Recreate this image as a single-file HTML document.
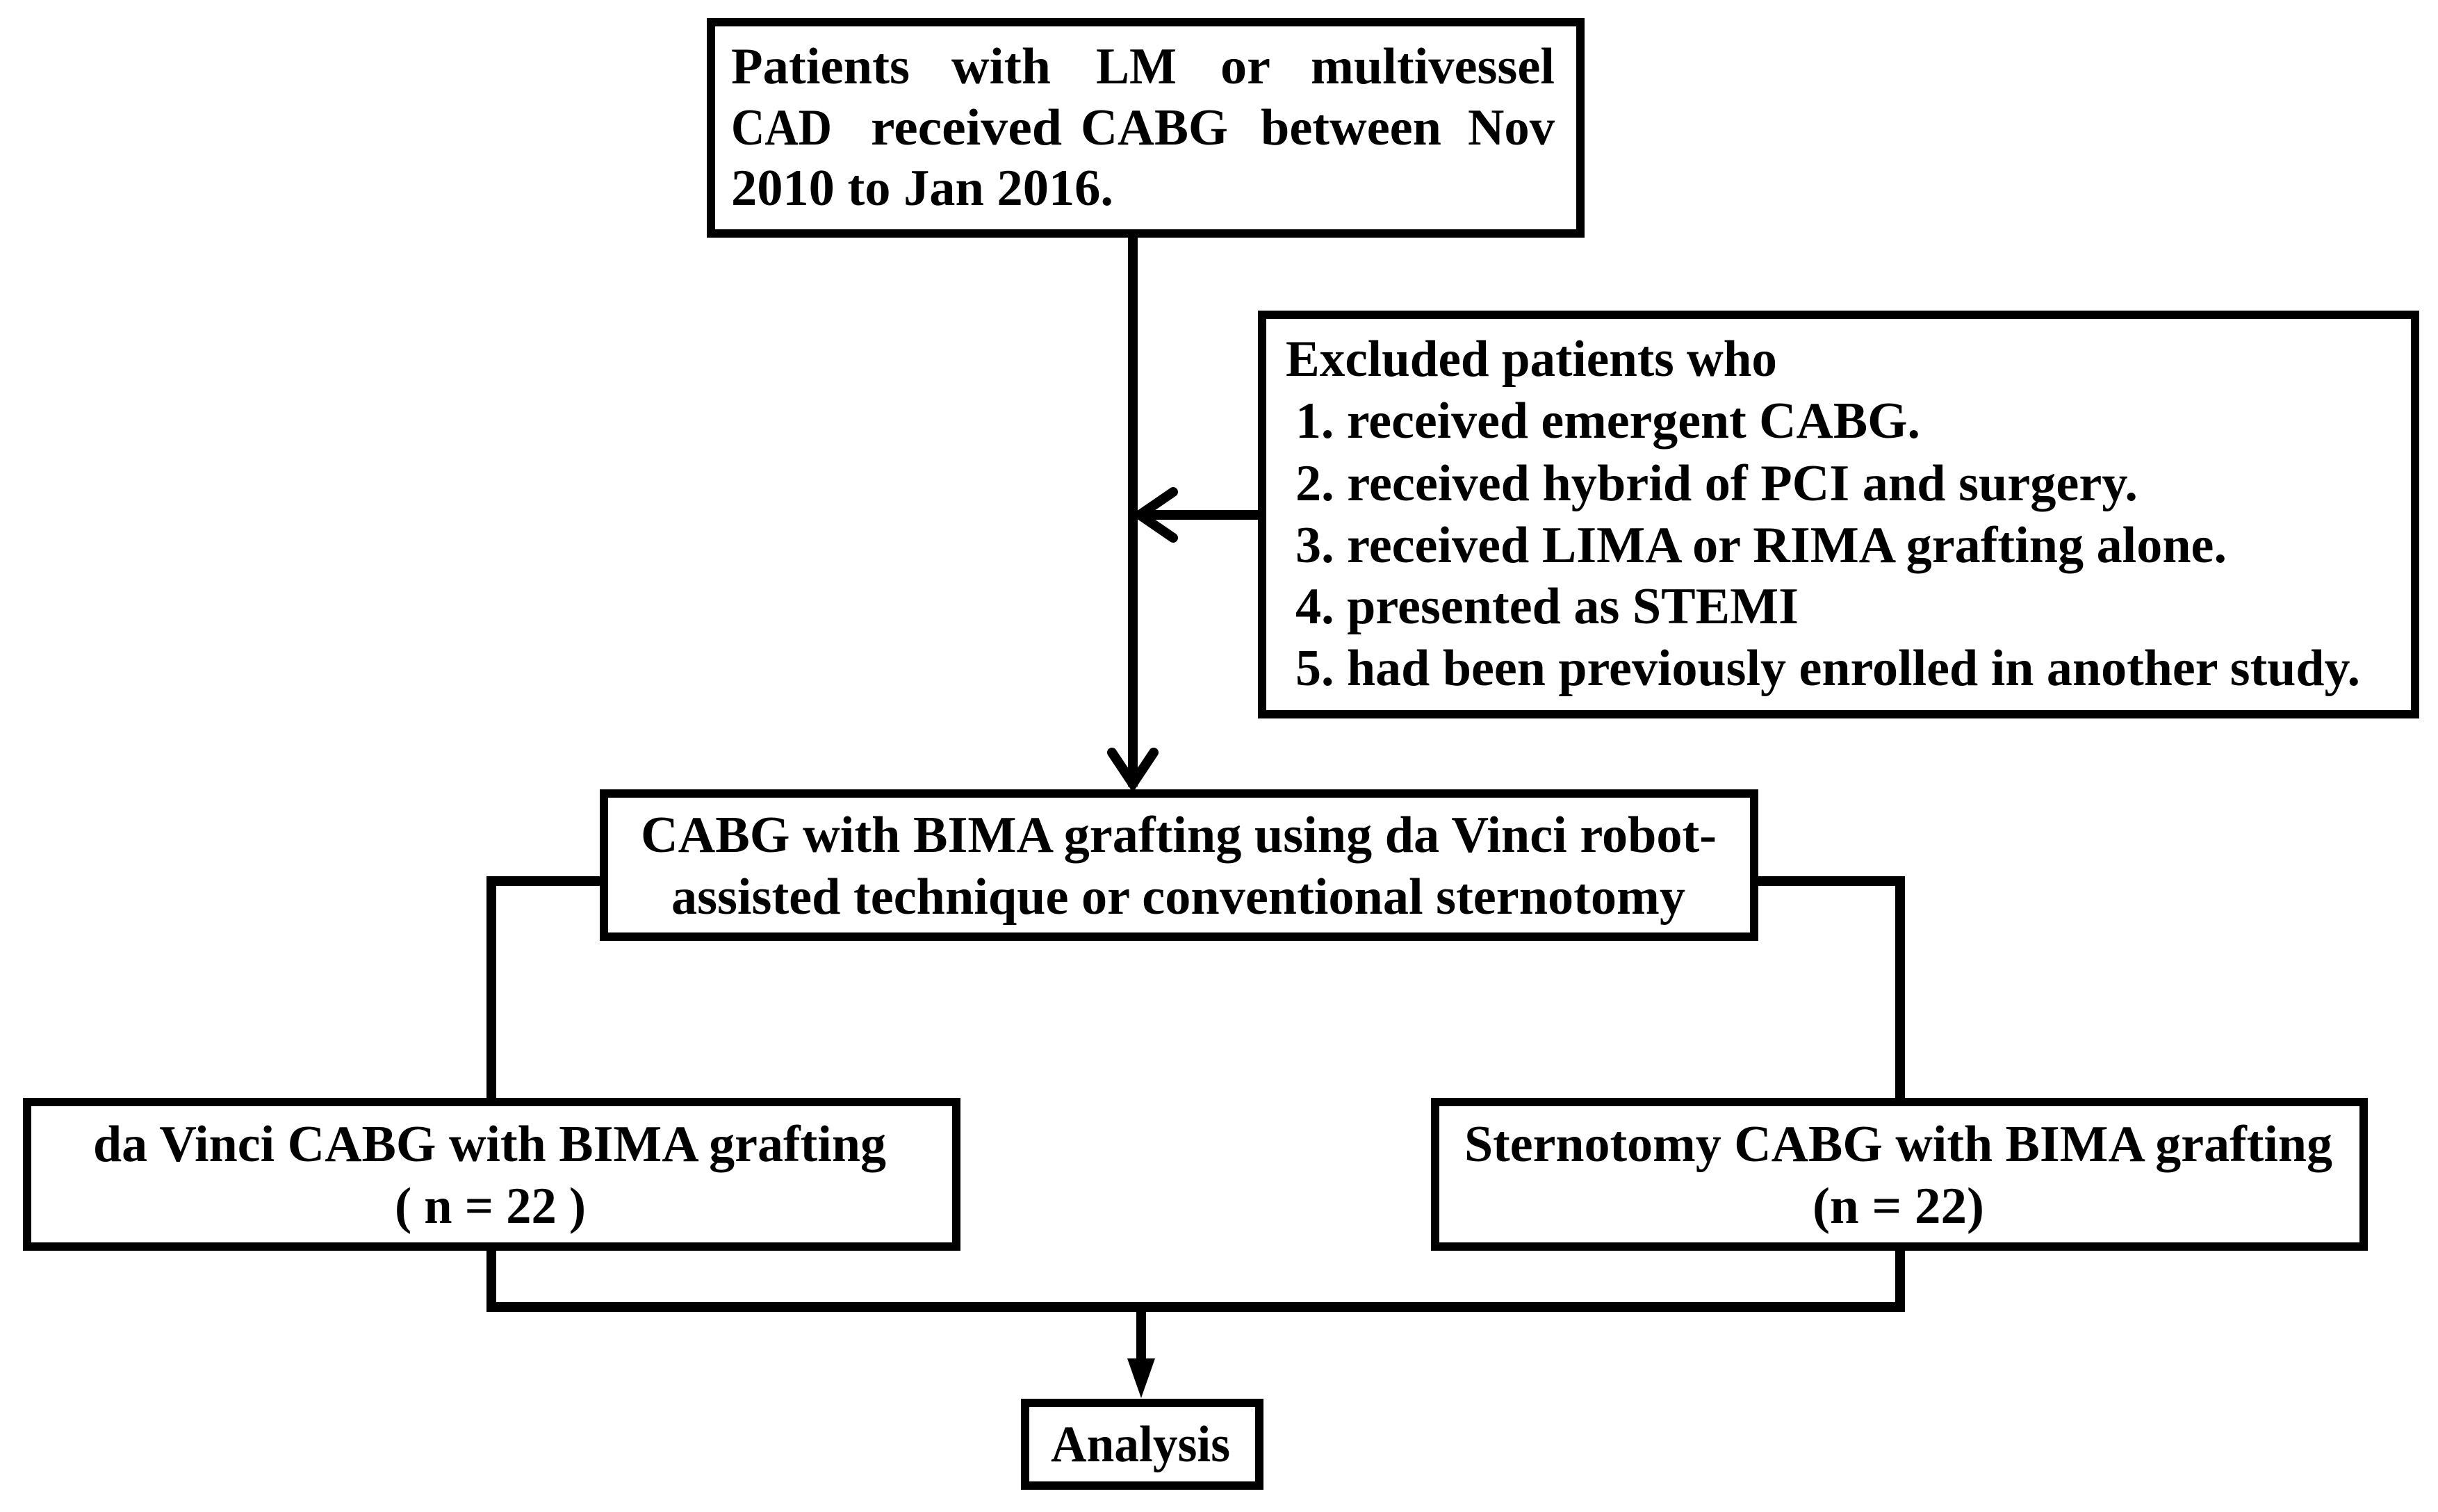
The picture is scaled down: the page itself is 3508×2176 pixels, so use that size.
<!DOCTYPE html>
<html><head><style>
html,body{margin:0;padding:0;background:#fff;}
svg{display:block;}
text{font-family:"Liberation Serif",serif;font-weight:bold;font-size:74px;fill:#000;}
</style></head><body>
<svg width="3508" height="2176" viewBox="0 0 3508 2176" xmlns="http://www.w3.org/2000/svg">
<g fill="none" stroke="#000" stroke-width="12">
<rect x="1023" y="32" width="1251" height="304"/>
<rect x="1816" y="453" width="3459" height="573" transform="translate(0,0)" style="display:none"/>
<rect x="1816" y="453" width="1659" height="575"/>
<rect x="869" y="1142" width="1655" height="206"/>
<rect x="39" y="1586" width="1337" height="208"/>
<rect x="2065" y="1586" width="1336" height="208"/>
<rect x="1475" y="2019" width="337" height="119"/>
</g>
<g stroke="#000" stroke-width="14" fill="none">
<line x1="1630" y1="336" x2="1630" y2="1132"/>
<line x1="1810" y1="741" x2="1640" y2="741"/>
<polyline points="1688,708 1640,741 1688,774" stroke-linecap="round"/>
<polyline points="1600,1083 1630,1128 1660,1083" stroke-linecap="round"/>
<polyline points="869,1268 707,1268 707,1586"/>
<polyline points="2524,1268 2734,1268 2734,1586"/>
<polyline points="707,1794 707,1881 2734,1881 2734,1794"/>
<line x1="1642" y1="1881" x2="1642" y2="1960"/>
</g>
<polygon points="1622,1955 1662,1955 1642,2012" fill="#000"/>
<text x="1052" y="120" textLength="257" lengthAdjust="spacingAndGlyphs">Patients</text>
<text x="1369" y="120" textLength="143" lengthAdjust="spacingAndGlyphs">with</text>
<text x="1577" y="120" textLength="116" lengthAdjust="spacingAndGlyphs">LM</text>
<text x="1756" y="120" textLength="72" lengthAdjust="spacingAndGlyphs">or</text>
<text x="1886" y="120" textLength="351" lengthAdjust="spacingAndGlyphs">multivessel</text>
<text x="1052" y="208" textLength="145" lengthAdjust="spacingAndGlyphs">CAD</text>
<text x="1253" y="208" textLength="275" lengthAdjust="spacingAndGlyphs">received</text>
<text x="1555" y="208" textLength="212" lengthAdjust="spacingAndGlyphs">CABG</text>
<text x="1814" y="208" textLength="260" lengthAdjust="spacingAndGlyphs">between</text>
<text x="2112" y="208" textLength="125" lengthAdjust="spacingAndGlyphs">Nov</text>
<text x="1052" y="295" textLength="550" lengthAdjust="spacingAndGlyphs">2010 to Jan 2016.</text>
<text x="1850" y="541" textLength="707" lengthAdjust="spacingAndGlyphs">Excluded patients who</text>
<text x="1864" y="630" textLength="899" lengthAdjust="spacingAndGlyphs">1. received emergent CABG.</text>
<text x="1864" y="720" textLength="1212" lengthAdjust="spacingAndGlyphs">2. received hybrid of PCI and surgery.</text>
<text x="1864" y="809" textLength="1340" lengthAdjust="spacingAndGlyphs">3. received LIMA or RIMA grafting alone.</text>
<text x="1864" y="897" textLength="724" lengthAdjust="spacingAndGlyphs">4. presented as STEMI</text>
<text x="1864" y="986" textLength="1532" lengthAdjust="spacingAndGlyphs">5. had been previously enrolled in another study.</text>
<text x="922" y="1226" textLength="1548" lengthAdjust="spacingAndGlyphs">CABG with BIMA grafting using da Vinci robot-</text>
<text x="966" y="1315" textLength="1459" lengthAdjust="spacingAndGlyphs">assisted technique or conventional sternotomy</text>
<text x="134" y="1671" textLength="1141" lengthAdjust="spacingAndGlyphs">da Vinci CABG with BIMA grafting</text>
<text x="568" y="1760" textLength="275" lengthAdjust="spacingAndGlyphs">( n = 22 )</text>
<text x="2107" y="1671" textLength="1249" lengthAdjust="spacingAndGlyphs">Sternotomy CABG with BIMA grafting</text>
<text x="2608" y="1760" textLength="247" lengthAdjust="spacingAndGlyphs">(n = 22)</text>
<text x="1512" y="2103" textLength="258" lengthAdjust="spacingAndGlyphs">Analysis</text>
</svg>
</body></html>
